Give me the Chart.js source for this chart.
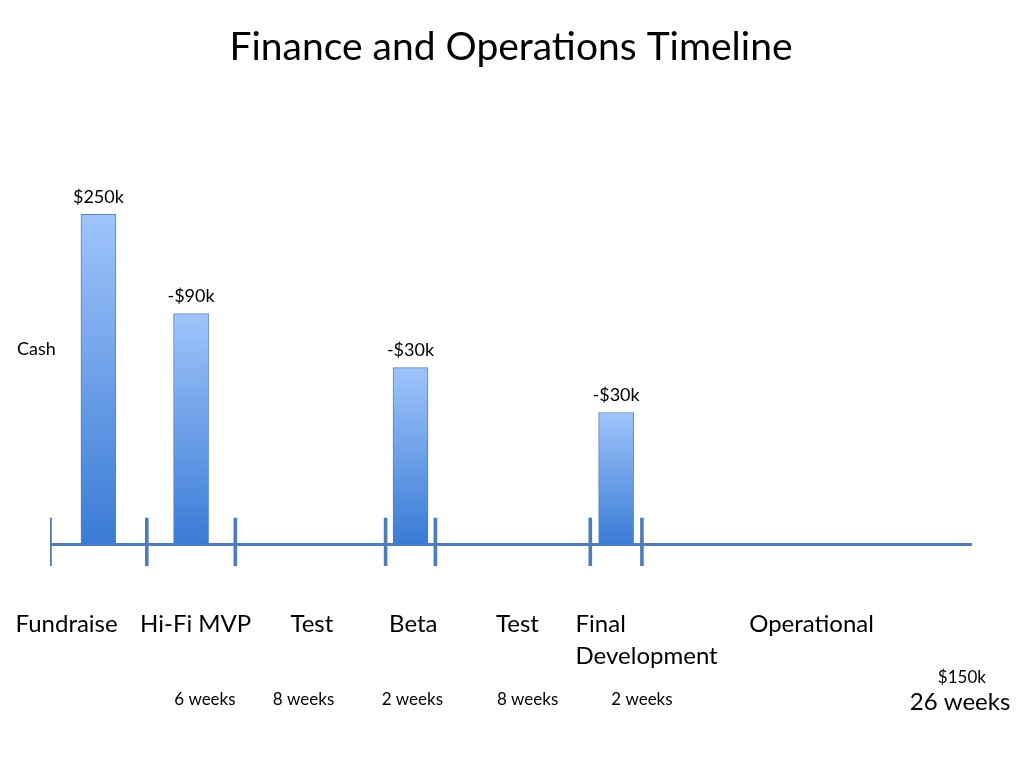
<!DOCTYPE html>
<html lang="en">
<head>
  <meta charset="UTF-8" />
  <title>Finance and Operations Timeline</title>
  <script src="https://cdn.jsdelivr.net/npm/chart.js"></script>
  <style>
    html, body { margin: 0; padding: 0; background: #fff; }
    #wrap { width: 1024px; height: 768px; }
  </style>
</head>
<body>
  <div id="wrap"><canvas id="timeline" width="1024" height="768"></canvas></div>

  <script>
    // timeline phases, durations and cash (in $k)
    const phases = ['Fundraise', 'Hi-Fi MVP', 'Test', 'Beta', 'Test', 'Final\nDevelopment', 'Operational'];
    const durations = ['', '6 weeks', '8 weeks', '2 weeks', '8 weeks', '2 weeks', '26 weeks'];
    const boundaries = [0, 10.5, 20.1, 36.4, 41.8, 58.6, 64.2, 100];   // phase edges on the timeline
    const cashPhase = [0, 1, 3, 5];                                    // phases that get a cash bar
    const cashBalance = [250, 175, 134, 100];
    const cashLabels = ['$250k', '-$90k', '-$30k', '-$30k'];
    const operationalCash = '$150k';

    // where the text sits (timeline units / cash units)
    const phaseLabelX = [1.8, 15.8, 28.4, 39.4, 50.7, 57.0, 82.6];
    const durationLabelX = [0, 16.8, 27.5, 39.3, 51.8, 64.2, 98.7];
    const FONT = 'Lato, "Open Sans", sans-serif';
    const LINE = '#4f7db9';

    const barData = cashPhase.map((p, i) => ({ x: (boundaries[p] + boundaries[p + 1]) / 2, y: cashBalance[i] }));
    const tickData = boundaries.slice(0, -1).map(b => ({ x: b, y: [-16, 20] }));

    const textPlugin = {
      id: 'timelineText',
      afterDatasetsDraw(chart) {
        const c = chart.ctx, xs = chart.scales.x, ys = chart.scales.y;
        c.save();
        c.fillStyle = '#000';
        c.textBaseline = 'middle';

        // value labels above bars
        c.font = '18px ' + FONT;
        c.textAlign = 'center';
        chart.getDatasetMeta(0).data.forEach((bar, i) => {
          c.fillText(cashLabels[i], bar.x, bar.y - 17);
        });

        // y label
        c.textAlign = 'left';
        c.fillText('Cash', 17, ys.getPixelForValue(148));

        // phase names
        c.font = '24px ' + FONT;
        phases.forEach((name, i) => {
          const lines = name.split('\n');
          c.textAlign = lines.length > 1 ? 'left' : 'center';
          lines.forEach((ln, j) => {
            c.fillText(ln, xs.getPixelForValue(phaseLabelX[i]), ys.getPixelForValue(-60) + j * 32);
          });
        });

        // durations
        durations.forEach((d, i) => {
          if (!d) return;
          const last = i === durations.length - 1;
          c.font = (last ? '24px ' : '17px ') + FONT;
          c.textAlign = 'center';
          c.fillText(d, xs.getPixelForValue(durationLabelX[i]), ys.getPixelForValue(last ? -119.5 : -117));
        });

        c.font = '17px ' + FONT;
        c.fillText(operationalCash, xs.getPixelForValue(98.9), ys.getPixelForValue(-100.5));
        c.restore();
      }
    };

    new Chart(document.getElementById('timeline'), {
      type: 'bar',
      data: {
        datasets: [
          {
            data: barData,
            order: 0,
            grouped: false,
            barThickness: 35,
            borderWidth: 1,
            borderColor: '#5a82b8',
            backgroundColor(ctx) {
              const chart = ctx.chart;
              if (!chart.chartArea || !ctx.raw) return '#6fa0e6';
              const ys = chart.scales.y;
              const top = ys.getPixelForValue(ctx.raw.y);
              const bottom = ys.getPixelForValue(0);
              const g = chart.ctx.createLinearGradient(0, top, 0, bottom);
              g.addColorStop(0, '#9fc4fb');
              g.addColorStop(1, '#3a7bd5');
              return g;
            }
          },
          {
            data: tickData,
            order: 1,
            grouped: false,
            barThickness: 3,
            backgroundColor: LINE,
            borderWidth: 0
          },
          {
            type: 'line',
            data: [{ x: boundaries[0], y: 0 }, { x: boundaries[boundaries.length - 1], y: 0 }],
            order: 2,
            borderColor: LINE,
            borderWidth: 3,
            pointRadius: 0
          }
        ]
      },
      options: {
        responsive: false,
        animation: false,
        layout: { padding: { left: 50, right: 52, top: 0, bottom: 197 } },
        scales: {
          x: { type: 'linear', min: 0, max: 100, offset: false, display: false },
          y: { min: -20, max: 280, display: false }
        },
        plugins: {
          legend: { display: false },
          tooltip: { enabled: false },
          title: {
            display: true,
            text: 'Finance and Operations Timeline',
            color: '#000',
            font: { family: FONT, size: 39, weight: 'normal' },
            padding: { top: 24, bottom: 104 }
          }
        }
      },
      plugins: [textPlugin]
    });
  </script>
</body>
</html>
